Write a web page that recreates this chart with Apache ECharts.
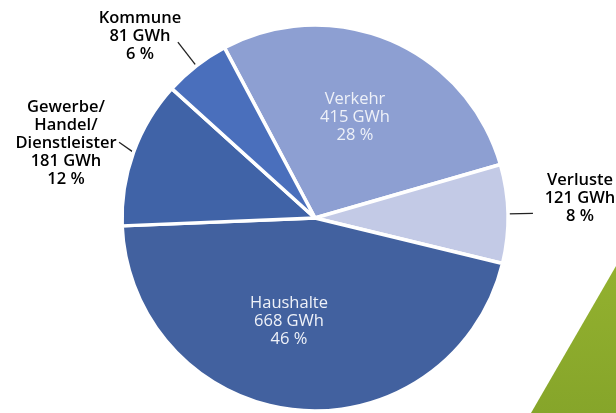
<!DOCTYPE html>
<html><head><meta charset="utf-8">
<script src="https://cdn.jsdelivr.net/npm/echarts@6/dist/echarts.min.js"></script>
<style>html,body{margin:0;padding:0;background:#fff}#c{width:616px;height:413px}</style>
</head><body><div id="c"></div>
<script>
// Data
const categories = ['Verkehr', 'Verluste', 'Haushalte', 'Gewerbe/\nHandel/\nDienstleister', 'Kommune'];
const valuesGWh = [415, 121, 668, 181, 81];
const percents = [28, 8, 46, 12, 6];

// Styling
const colors = ['#8d9fd2', '#c3cae6', '#42619f', '#4063a7', '#4a6fbc'];
const insideLabel = [true, false, true, false, false];
const labelPos = [[355, 117], [580, 198], [289, 321], [66, 143], [140, 36]];
const leaderLen = [0, 25, 0, 20, 30];

const chart = echarts.init(document.getElementById('c'), null, {renderer: 'canvas'});
const data = categories.map((n, i) => ({
  name: n,
  value: valuesGWh[i],
  itemStyle: {color: colors[i]},
  label: insideLabel[i]
    ? {color: '#eef1f8', fontWeight: 'normal'}
    : {color: '#000000', fontWeight: 600},
  labelLine: {show: !insideLabel[i], length: leaderLen[i], length2: 0}
}));

chart.setOption({
  animation: false,
  backgroundColor: '#ffffff',
  graphic: [{
    type: 'polygon',
    silent: true,
    z: -1,
    shape: {points: [[616, 266], [531, 413], [616, 413]]},
    style: {
      fill: new echarts.graphic.LinearGradient(0, 0, 0, 1, [
        {offset: 0, color: '#93b12f'},
        {offset: 1, color: '#86a52a'}
      ])
    }
  }],
  series: [{
    type: 'pie',
    center: [315, 218],
    radius: [0, 193],
    startAngle: 118,
    clockwise: true,
    data: data,
    itemStyle: {borderColor: '#ffffff', borderWidth: 3.5},
    label: {
      show: true,
      position: 'outside',
      overflow: 'none',
      fontFamily: '"Open Sans", sans-serif',
      fontSize: 16.5,
      lineHeight: 18,
      align: 'center',
      formatter: p => categories[p.dataIndex] + '\n' + valuesGWh[p.dataIndex] + ' GWh\n' + percents[p.dataIndex] + ' %'
    },
    labelLine: {show: true, smooth: false, lineStyle: {color: '#222', width: 1.3}},
    labelLayout: function (params) {
      const i = params.dataIndex;
      const pos = labelPos[i];
      const out = {x: pos[0], y: pos[1], align: 'center', verticalAlign: 'middle'};
      const pts = params.labelLinePoints;
      if (!insideLabel[i] && pts && pts.length >= 2) {
        out.labelLinePoints = [pts[0], pts[1]];
      }
      return out;
    }
  }]
});
</script>
</body></html>
